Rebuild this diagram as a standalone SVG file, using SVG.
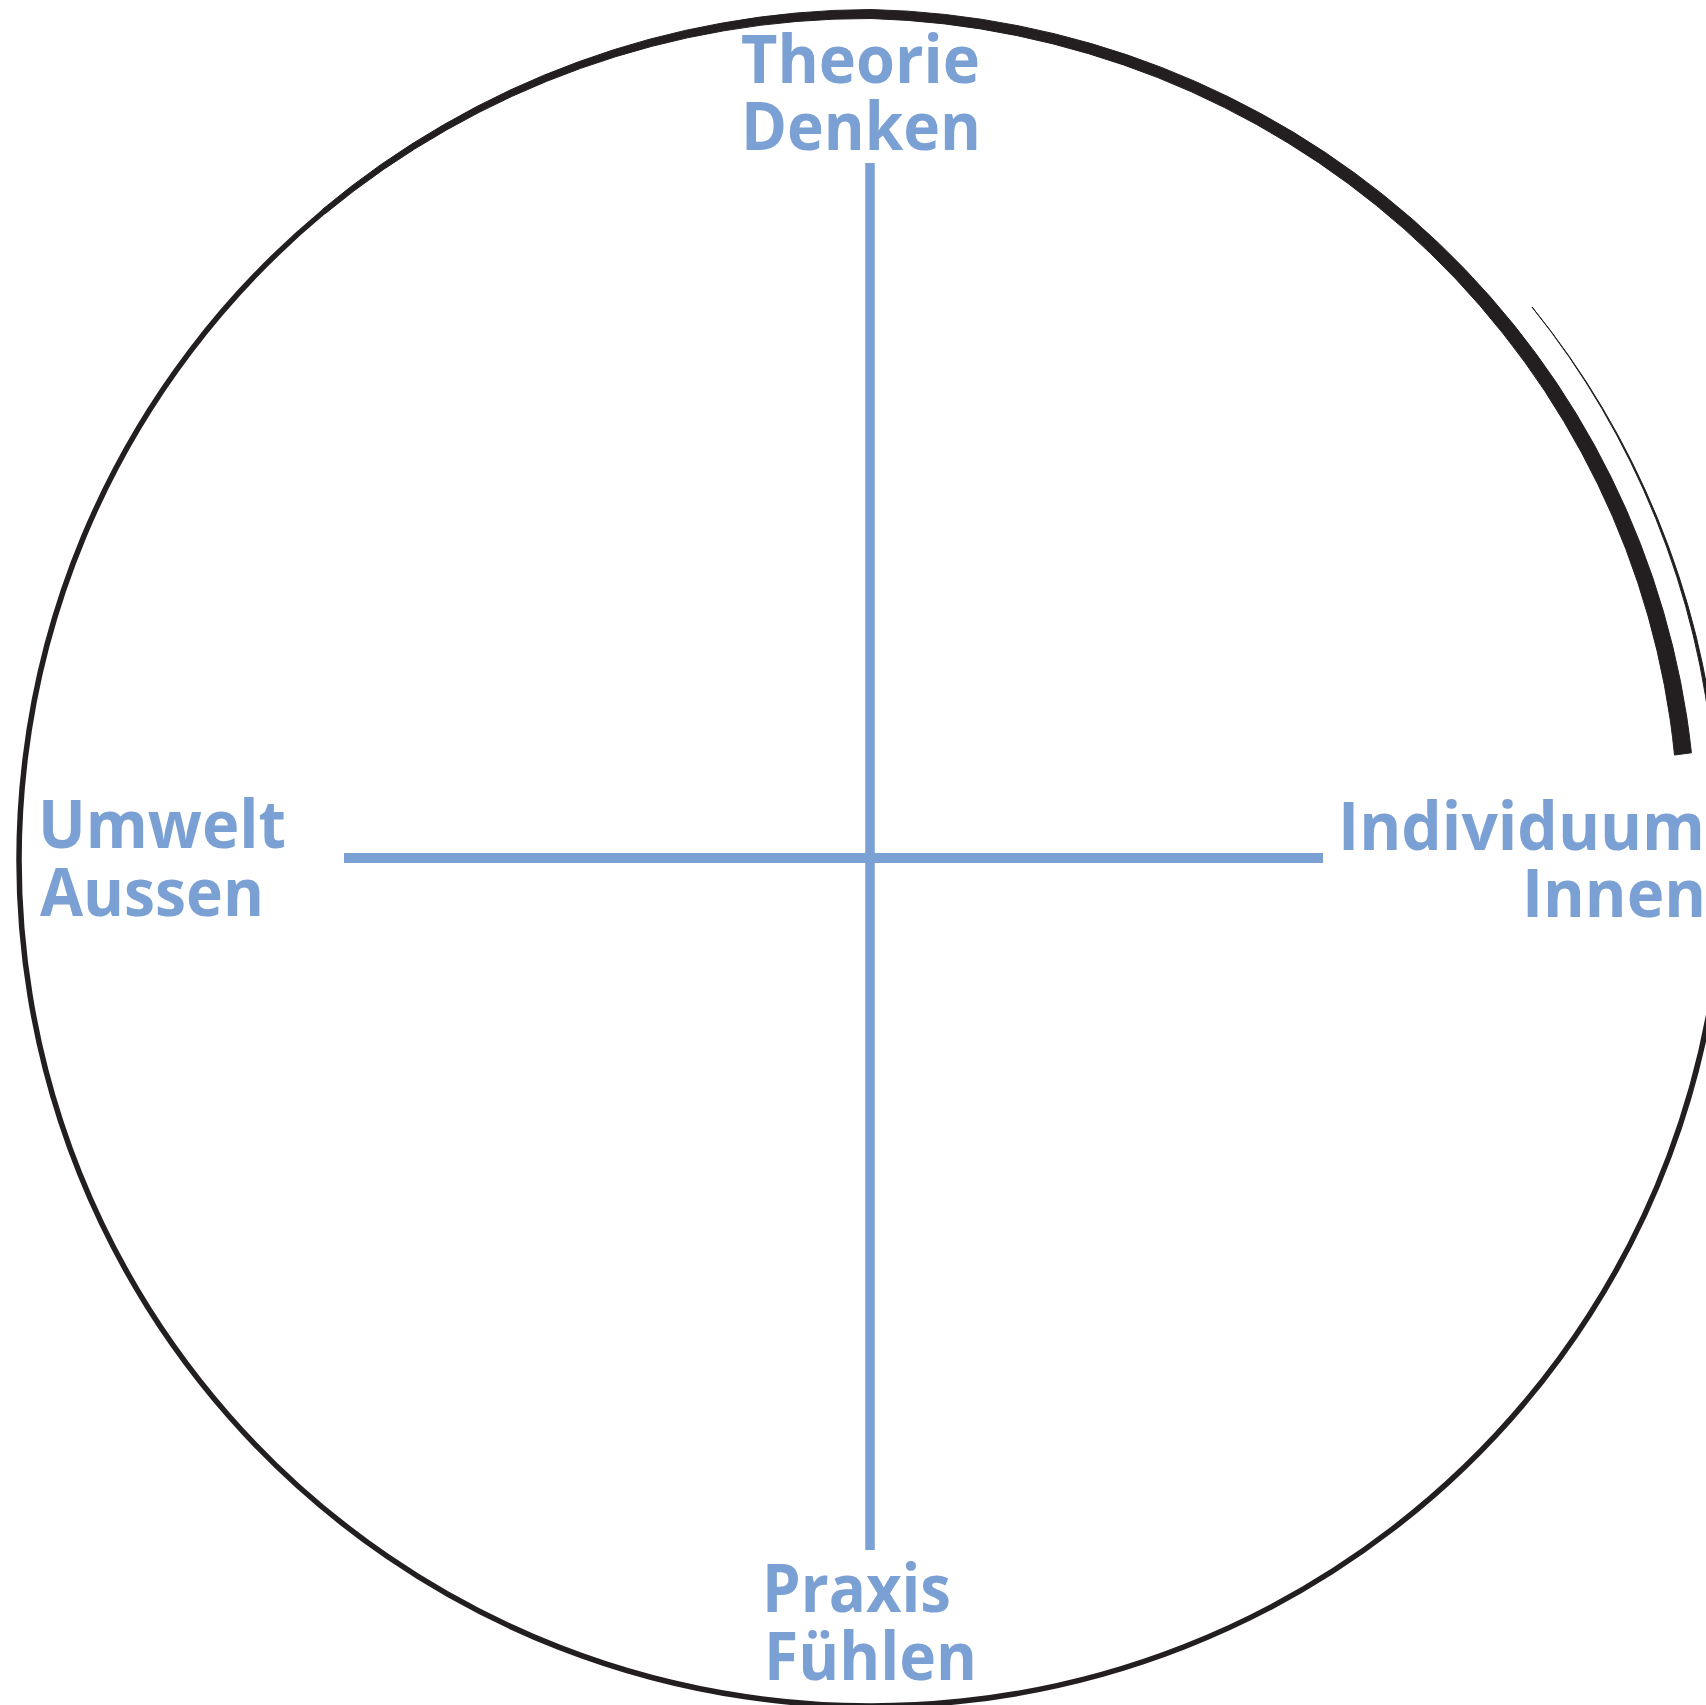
<svg xmlns="http://www.w3.org/2000/svg" width="1706" height="1705" viewBox="0 0 1706 1705">
  <style>
    .ring { fill: none; stroke: #231f20; stroke-width: 5.5; }
    .ink { fill: #231f20; stroke: #231f20; stroke-width: 1; stroke-linejoin: round; }
    .axis { stroke: #7ba0d4; fill: none; }
    .lbl { font-family: "Open Sans", "Noto Sans", "Liberation Sans", sans-serif; font-weight: 700; font-size: 66px; fill: #7ba0d4; }
  </style>
  <rect width="1706" height="1705" fill="#ffffff"/>
  <g id="frame">
    <path class="ring" d="M1716.7,756.9 A852,846 0 1 1 323.3,212.0"/>
    <path class="ink" d="M321.7,210.0 A855,855 0 0 1 380.7,164.7 A855,855 0 0 1 443.5,124.8 A855,855 0 0 1 509.6,90.3 A855,855 0 0 1 578.4,61.8 A856,856 0 0 1 649.5,39.2 A856,856 0 0 1 722.4,23.0 A856,856 0 0 1 796.3,13.0 A856,856 0 0 1 871,9.5 A855,855 0 0 1 945.5,14.5 A853,853 0 0 1 1019.1,25.9 A851,851 0 0 1 1091.3,43.6 A849,849 0 0 1 1161.5,67.4 A848,848 0 0 1 1229.2,97.2 A846,846 0 0 1 1294.0,132.6 A844,844 0 0 1 1355.2,173.4 A842,842 0 0 1 1412.5,219.3 A841,841 0 0 1 1465.4,269.8 A839,839 0 0 1 1513.6,324.6 A837,837 0 0 1 1556.8,383.2 A835,835 0 0 1 1594.5,445.3 A834,834 0 0 1 1626.5,510.2 A832,832 0 0 1 1652.7,577.5 A830,830 0 0 1 1672.8,646.7 A828,828 0 0 1 1686.8,717.2 A827,827 0 0 1 1691.4,752.8 L1674.5,755.0 A812,812 0 0 0 1670.3,720.1 A814,814 0 0 0 1657.1,650.9 A816,816 0 0 0 1637.9,582.9 A818,818 0 0 0 1612.7,516.7 A821,821 0 0 0 1581.6,452.7 A823,823 0 0 0 1545.1,391.5 A825,825 0 0 0 1503.0,333.5 A827,827 0 0 0 1456.0,279.2 A830,830 0 0 0 1404.3,229.1 A832,832 0 0 0 1348.1,183.5 A834,834 0 0 0 1288.0,142.9 A836,836 0 0 0 1224.4,107.5 A839,839 0 0 0 1157.8,77.6 A841,841 0 0 0 1088.6,53.7 A843,843 0 0 0 1017.4,35.7 A845,845 0 0 0 944.7,23.9 A847,847 0 0 0 871,18.5 A848,848 0 0 0 797.1,21.4 A848,848 0 0 0 723.8,30.8 A848,848 0 0 0 651.5,46.4 A849,849 0 0 0 580.8,68.3 A849,849 0 0 0 512.3,96.2 A849,849 0 0 0 446.5,130.0 A849,849 0 0 0 383.9,169.2 A850,850 0 0 0 324.9,213.9 Z"/>
    <path class="ink" stroke-width="0" d="M1532,307 A852,846 0 0 1 1716.7,756.9 L1713.2,756.5 A849,843 0 0 0 1532,307 Z"/>
  </g>
  <g id="connectors">
    <line class="axis" x1="870" y1="163" x2="870" y2="1550" stroke-width="9.5"/>
    <line class="axis" x1="344" y1="858" x2="1323" y2="858" stroke-width="10"/>
  </g>
  <g id="node-top">
    <text class="lbl" x="741" y="83" textLength="239" lengthAdjust="spacingAndGlyphs">Theorie</text>
    <text class="lbl" x="741" y="150" textLength="240" lengthAdjust="spacingAndGlyphs">Denken</text>
  </g>
  <g id="node-left">
    <text class="lbl" x="38" y="848" textLength="248" lengthAdjust="spacingAndGlyphs">Umwelt</text>
    <text class="lbl" x="40" y="916" textLength="224" lengthAdjust="spacingAndGlyphs">Aussen</text>
  </g>
  <g id="node-right">
    <text class="lbl" x="1338" y="850" textLength="367" lengthAdjust="spacingAndGlyphs">Individuum</text>
    <text class="lbl" x="1522" y="917" textLength="184" lengthAdjust="spacingAndGlyphs">Innen</text>
  </g>
  <g id="node-bottom">
    <text class="lbl" x="762" y="1612" textLength="189" lengthAdjust="spacingAndGlyphs">Praxis</text>
    <text class="lbl" x="764" y="1680" textLength="213" lengthAdjust="spacingAndGlyphs">Fühlen</text>
  </g>
</svg>
